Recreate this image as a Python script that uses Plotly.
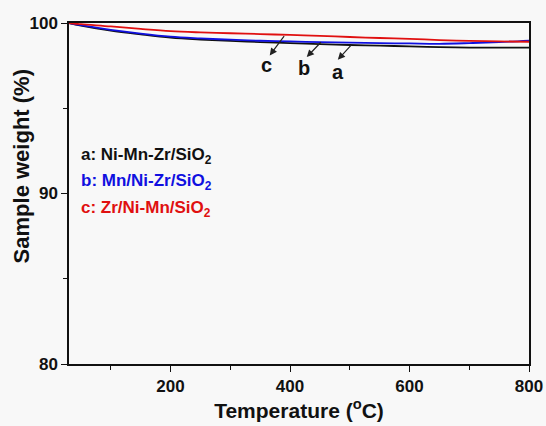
import plotly.graph_objects as go

# TGA curves: temperature (°C) vs sample weight (%)
temperature = [30, 50, 100, 150, 200, 250, 300, 350, 400, 450, 500, 550, 600, 650, 700, 750, 800]
weight_a = [100, 99.85, 99.55, 99.33, 99.14, 99.03, 98.95, 98.88, 98.82, 98.76, 98.71, 98.67, 98.63, 98.58, 98.56, 98.55, 98.55]
weight_b = [100, 99.87, 99.60, 99.38, 99.20, 99.10, 99.02, 98.96, 98.92, 98.88, 98.85, 98.82, 98.80, 98.78, 98.82, 98.88, 98.97]
weight_c = [100, 99.93, 99.80, 99.65, 99.52, 99.45, 99.40, 99.35, 99.30, 99.24, 99.18, 99.12, 99.07, 99.00, 98.95, 98.92, 98.90]

series_names = ["a: Ni-Mn-Zr/SiO<sub>2</sub>", "b: Mn/Ni-Zr/SiO<sub>2</sub>", "c: Zr/Ni-Mn/SiO<sub>2</sub>"]
series_colors = ["#111111", "#1010e0", "#e01010"]

x_ticks = [200, 400, 600, 800]
y_ticks = [80, 90, 100]

FONT = "Liberation Sans, Arial, sans-serif"

fig = go.Figure()
for ys, color in zip([weight_a, weight_b, weight_c], series_colors):
    fig.add_trace(go.Scatter(x=temperature, y=ys, mode="lines",
                             line=dict(color=color, width=1.8, shape="spline"),
                             showlegend=False))

# in-plot legend text
for i, (name, color) in enumerate(zip(series_names, series_colors)):
    fig.add_annotation(x=0.022, y=0.61 - i * 0.077, xref="paper", yref="paper",
                       text="<b>" + name + "</b>", showarrow=False,
                       xanchor="left", yanchor="middle",
                       font=dict(family=FONT, size=17, color=color))

# curve labels with arrows pointing from each curve
labels = [("c", 392, 99.32, 366, 98.10, 361, 97.55),
          ("b", 454, 98.96, 428, 98.00, 424, 97.36),
          ("a", 505, 98.80, 480, 97.85, 480, 97.15)]
for txt, tx, ty, hx, hy, lx, ly in labels:
    fig.add_annotation(x=hx, y=hy, ax=tx, ay=ty, xref="x", yref="y",
                       axref="x", ayref="y", text="", showarrow=True,
                       arrowhead=2, arrowsize=1.2, arrowwidth=1.2, arrowcolor="#222222")
    fig.add_annotation(x=lx, y=ly, xref="x", yref="y", text="<b>" + txt + "</b>",
                       showarrow=False, font=dict(family=FONT, size=20, color="#111111"))

# y-axis title
fig.add_annotation(x=-0.104, y=0.58, xref="paper", yref="paper", textangle=-90,
                   text="<b>Sample weight (%)</b>", showarrow=False,
                   xanchor="center", yanchor="middle",
                   font=dict(family=FONT, size=22, color="#111111"))

fig.update_layout(
    width=546, height=426,
    margin=dict(l=69, r=17, t=23, b=62, autoexpand=False),
    paper_bgcolor="#f8f8f8", plot_bgcolor="#f8f8f8",
    font=dict(family=FONT, color="#111111"),
    xaxis=dict(range=[30, 800], tickvals=x_ticks, automargin=False,
               ticktext=["<b>%d</b>" % v for v in x_ticks],
               ticks="outside", ticklen=6, tickwidth=1.3, tickcolor="#111111",
               minor=dict(tickvals=[100, 300, 500, 700], ticks="outside", ticklen=4,
                          tickwidth=1.2, tickcolor="#111111"),
               showline=True, linecolor="#111111", linewidth=1.5, mirror=True,
               showgrid=False, zeroline=False,
               tickfont=dict(size=17, family=FONT),
               title=dict(text="<b>Temperature (<sup>o</sup>C)</b>", font=dict(size=21, family=FONT),
                          standoff=6)),
    yaxis=dict(range=[80, 100], tickvals=y_ticks, automargin=False,
               ticktext=["<b>%d</b>" % v for v in y_ticks],
               ticks="outside", ticklen=6, tickwidth=1.3, tickcolor="#111111",
               minor=dict(tickvals=[85, 95], ticks="outside", ticklen=4,
                          tickwidth=1.2, tickcolor="#111111"),
               showline=True, linecolor="#111111", linewidth=1.5, mirror=True,
               showgrid=False, zeroline=False,
               tickfont=dict(size=17, family=FONT)),
)

fig.write_html("out.html")
